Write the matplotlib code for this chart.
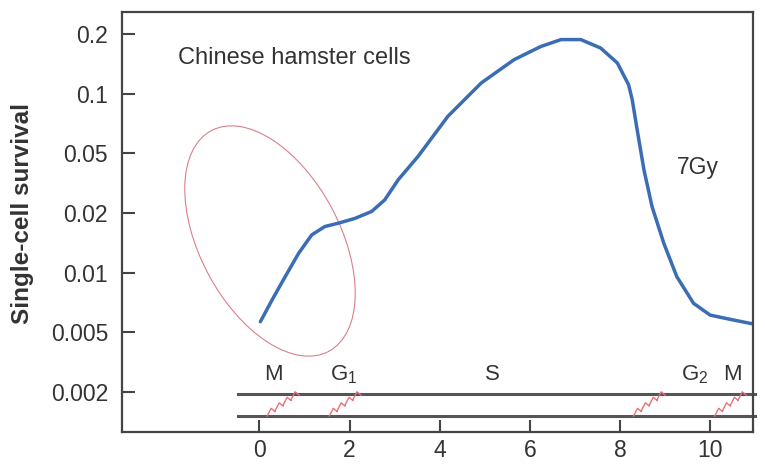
import numpy as np
import matplotlib
matplotlib.use("Agg")
import matplotlib.pyplot as plt
from matplotlib.patches import Ellipse
from matplotlib.transforms import blended_transform_factory

plt.rcParams['font.family'] = ['Liberation Sans', 'DejaVu Sans']
plt.rcParams['mathtext.fontset'] = 'custom'
plt.rcParams['mathtext.rm'] = 'Liberation Sans'

# survival curve (hours after mitosis, survival fraction)
hours = [0.02, 0.28, 0.57, 0.87, 1.16, 1.45, 1.75, 2.12, 2.49, 2.78, 3.08,
         3.52, 4.18, 4.92, 5.65, 6.24, 6.69, 7.13, 7.57, 7.94, 8.19, 8.27,
         8.38, 8.53, 8.71, 8.97, 9.26, 9.63, 10.0, 10.44, 10.96]
survival = [0.00566, 0.00729, 0.00955, 0.01254, 0.01552, 0.0171, 0.01778,
            0.0188, 0.0205, 0.0245, 0.0334, 0.0478, 0.0769, 0.1133, 0.1486,
            0.173, 0.1876, 0.1876, 0.170, 0.143, 0.111, 0.0933, 0.0658,
            0.0389, 0.0221, 0.0141, 0.00955, 0.00701, 0.00611, 0.00582,
            0.00551]

y_ticks = [0.002, 0.005, 0.01, 0.02, 0.05, 0.1, 0.2]
y_labels = ['0.002', '0.005', '0.01', '0.02', '0.05', '0.1', '0.2']
x_ticks = [0, 2, 4, 6, 8, 10]

phase_names = ['M', r'G$_1$', 'S', r'G$_2$', 'M']
phase_pos = [0.3, 1.86, 5.16, 9.66, 10.5]
transitions = [(0.17, 0.88), (1.55, 2.25), (8.3, 9.0), (10.1, 10.8)]

# the original axis puts the labelled ticks at equal spacing
lt = np.log10(y_ticks)
idx = np.arange(len(y_ticks), dtype=float)


def fwd(v):
    lv = np.log10(np.clip(np.asarray(v, dtype=float), 1e-12, None))
    out = np.interp(lv, lt, idx)
    lo = lv < lt[0]
    hi = lv > lt[-1]
    out[lo] = (lv[lo] - lt[0]) / (lt[1] - lt[0])
    out[hi] = idx[-1] + (lv[hi] - lt[-1]) / (lt[-1] - lt[-2])
    return out


def inv(u):
    u = np.asarray(u, dtype=float)
    lv = np.interp(u, idx, lt)
    lo = u < 0
    hi = u > idx[-1]
    lv[lo] = lt[0] + u[lo] * (lt[1] - lt[0])
    lv[hi] = lt[-1] + (u[hi] - idx[-1]) * (lt[-1] - lt[-2])
    return 10 ** lv


fig = plt.figure(figsize=(7.65, 4.66), dpi=100)
ax = fig.add_axes([122 / 765, 34 / 466, 631 / 765, 420 / 466])
ax.set_yscale('function', functions=(fwd, inv))

ax.plot(hours, survival, color='#3b6db5', lw=2.5, solid_capstyle='round',
        solid_joinstyle='round')

ax.set_xlim(-3.05, 10.95)
ax.set_ylim(inv([-0.67])[0], inv([6.37])[0])
ax.set_yticks(y_ticks)
ax.set_yticklabels(y_labels)
ax.yaxis.set_minor_locator(plt.NullLocator())
ax.set_xticks(x_ticks)
ax.tick_params(direction='in', length=9, width=1.5, color='#444',
               labelsize=16.5, labelcolor='#333', pad=5)
ax.tick_params(axis='y', pad=10)
for sp in ax.spines.values():
    sp.set_linewidth(1.6)
    sp.set_color('#444')

ax.set_ylabel('Single-cell survival', fontsize=17.5, fontweight='bold',
              color='#333')
ax.yaxis.set_label_coords(-0.14, 0.52)

ax.text(-1.8, 0.151, 'Chinese hamster cells', fontsize=17, color='#333',
        va='center')
ax.text(9.25, 0.040, '7Gy', fontsize=16.5, color='#333', va='center')

# cell-cycle phase bar
tr = blended_transform_factory(ax.transData, ax.transAxes)
for yb in (0.0905, 0.038):
    ax.plot([-0.48, 11], [yb, yb], transform=tr, color='#555', lw=2.2,
            clip_on=False)
for name, xp in zip(phase_names, phase_pos):
    ax.text(xp, 0.136, name, transform=tr, fontsize=16, color='#333',
            ha='center', va='center')
for x0, x1 in transitions:
    n = 4
    xs, ys = [], []
    for k in range(n):
        a = x0 + (x1 - x0) * k / n
        b = x0 + (x1 - x0) * (k + 1) / n
        ya = 0.038 + (0.0905 - 0.038) * k / n
        yb = 0.038 + (0.0905 - 0.038) * (k + 1) / n
        xs += [a, a + (b - a) * 0.5, b]
        ys += [ya, ya + (yb - ya) * 1.4, yb - (yb - ya) * 0.2]
    ax.plot(xs, ys, transform=tr, color='#e8707a', lw=1.0)

# hand-drawn highlight ellipse
ax.add_patch(Ellipse((2.70, 2.25), 1.40, 2.50, angle=28,
                     transform=fig.dpi_scale_trans, fill=False,
                     edgecolor='#d9808a', lw=0.8))

fig.savefig('out.png', dpi=100)
